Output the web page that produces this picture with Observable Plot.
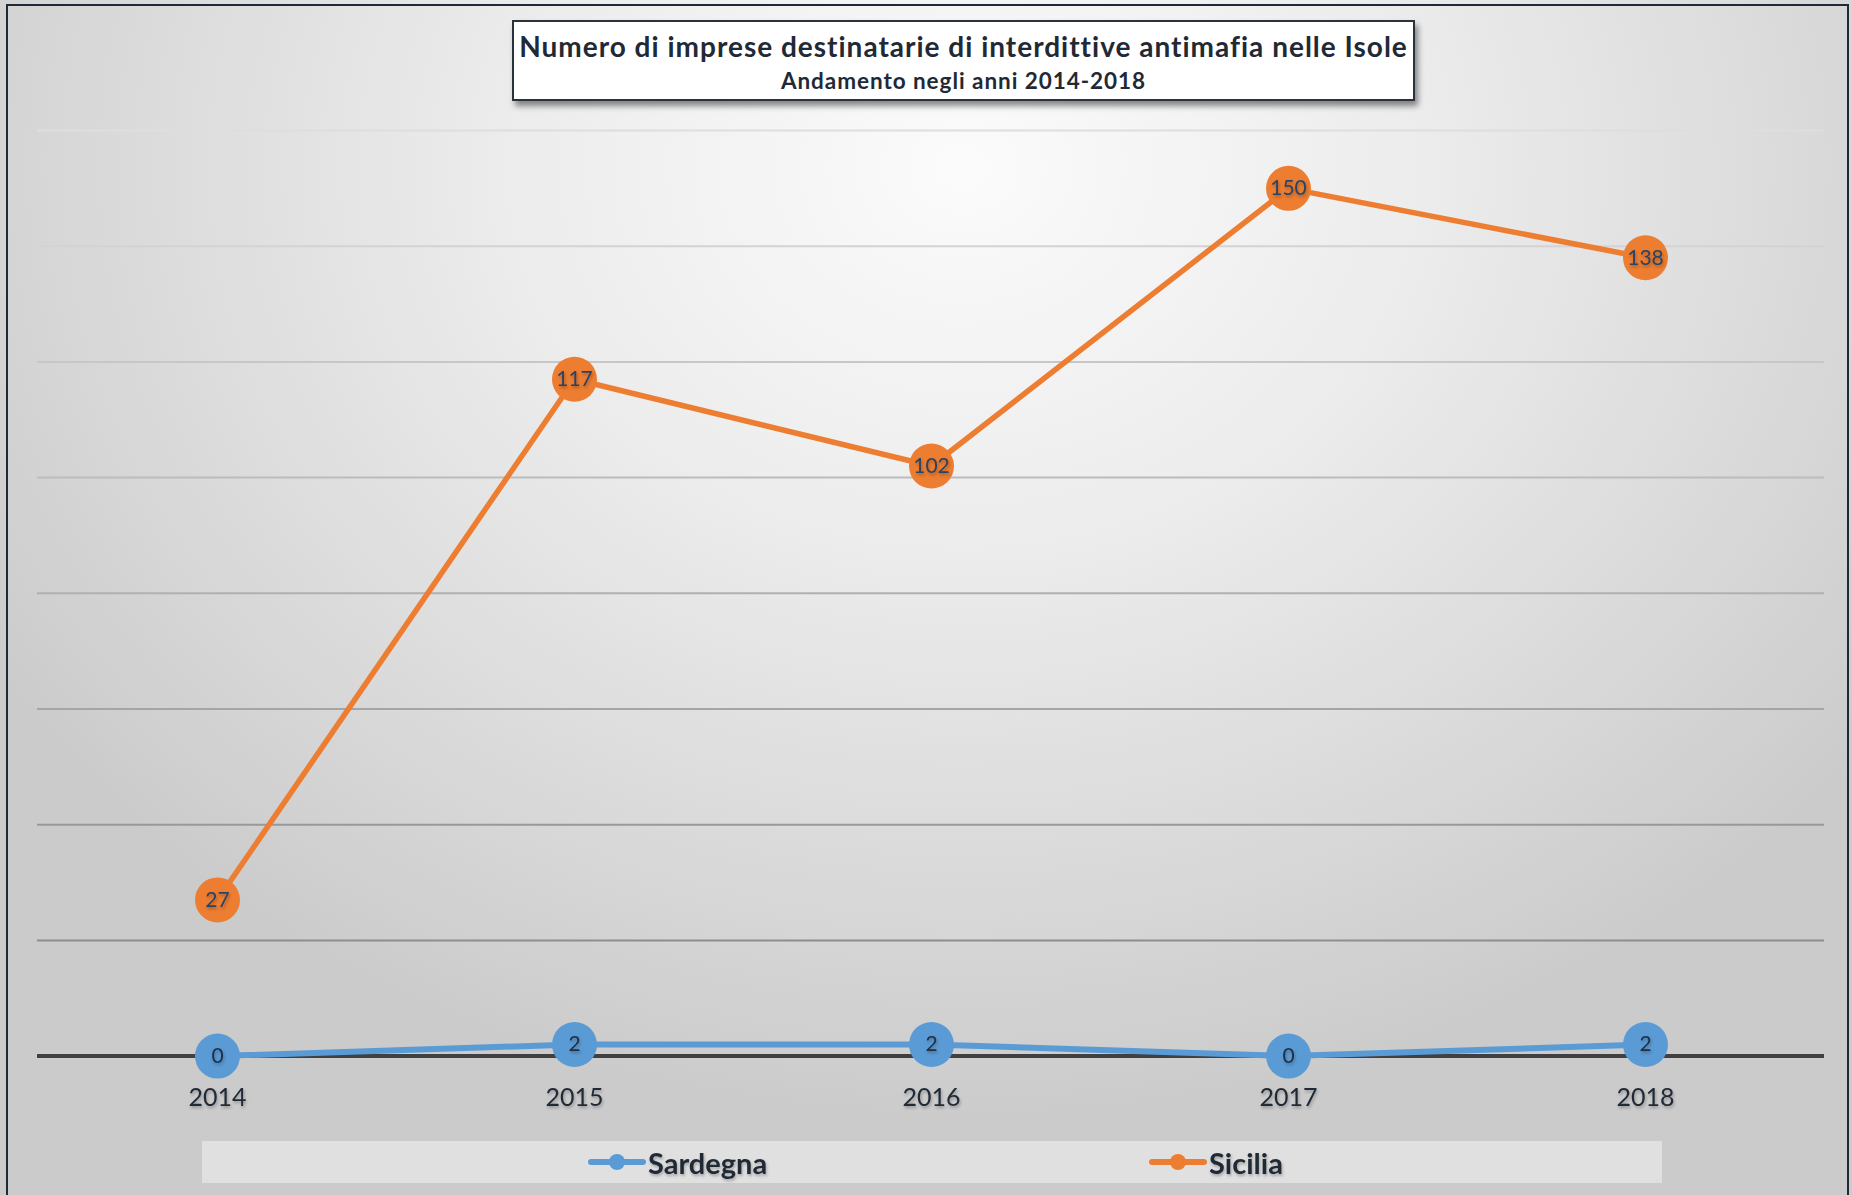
<!DOCTYPE html>
<html>
<head>
<meta charset="utf-8">
<script src="https://cdn.jsdelivr.net/npm/d3@7"></script>
<script src="https://cdn.jsdelivr.net/npm/@observablehq/plot@0.6"></script>
<style>
  html, body { margin: 0; padding: 0; overflow: hidden; background: #d0d0d0; }
  #chart {
    position: relative; width: 1852px; height: 1195px; overflow: hidden;
    background: radial-gradient(ellipse 62% 80% at 52% 14%, #fbfbfb 0%, #ececec 40%, #d9d9d9 75%, #cbcbcb 100%);
    font-family: Lato, "Open Sans", sans-serif;
  }
  #frame {
    position: absolute; left: 6px; top: 4px; width: 1843px; height: 1200px;
    border: 2px solid #1f2a36; box-sizing: border-box; pointer-events: none;
  }
  #plot { position: absolute; left: 0; top: 0; }
  #plot svg text { filter: drop-shadow(1px 2px 1.5px rgba(0,0,0,0.28)); }
  #titlebox {
    position: absolute; left: 512px; top: 20px; width: 903px; height: 81px;
    box-sizing: border-box; border: 2px solid #2a323c; background: #ffffff;
    box-shadow: 3px 5px 6px rgba(0,0,0,0.45); text-align: center; color: #1f2a36;
    white-space: nowrap;
  }
  #title { font-weight: 700; font-size: 28px; line-height: 28px; margin-top: 10px; letter-spacing: 1.0px; }
  #subtitle { font-weight: 700; font-size: 22.5px; line-height: 22px; margin-top: 10px; letter-spacing: 0.95px; }
  #legend {
    position: absolute; left: 202px; top: 1141px; width: 1460px; height: 42px;
    background: #e0e0e0;
  }
  .item { position: absolute; top: 0; height: 42px; display: flex; align-items: center; }
  .item span { font-weight: 700; font-size: 29px; color: #1f2a36; filter: drop-shadow(1px 2px 1.5px rgba(0,0,0,0.28)); }
  .item svg { margin-right: 2px; }
</style>
</head>
<body>
<div id="chart">
  <div id="plot"></div>
  <div id="titlebox">
    <div id="title"></div>
    <div id="subtitle"></div>
  </div>
  <div id="legend"></div>
  <div id="frame"></div>
</div>
<script>
// ---- data ----
const years = ["2014", "2015", "2016", "2017", "2018"];
const sardegna = [0, 2, 2, 0, 2];
const sicilia = [27, 117, 102, 150, 138];
const seriesNames = ["Sardegna", "Sicilia"];
const seriesColors = ["#5B9BD5", "#ED7D31"];
const gridTicks = [20, 40, 60, 80, 100, 120, 140, 160];
const titleText = "Numero di imprese destinatarie di interdittive antimafia nelle Isole";
const subtitleText = "Andamento negli anni 2014-2018";

document.getElementById("title").textContent = titleText;
document.getElementById("subtitle").textContent = subtitleText;

const rows = [];
[sardegna, sicilia].forEach((vals, si) => {
  years.forEach((yr, i) => rows.push({series: seriesNames[si], year: yr, value: vals[i]}));
});
const sard = rows.filter(d => d.series === "Sardegna");
const sici = rows.filter(d => d.series === "Sicilia");

const gridColor = d3.scaleLinear().domain([20, 160]).range(["#8e8e8e", "#dedede"]);

const chart = Plot.plot({
  width: 1852,
  height: 1130,
  marginTop: 130,
  marginBottom: 74.4,
  marginLeft: 37,
  marginRight: 28,
  style: {background: "transparent", fontFamily: "Lato, 'Open Sans', sans-serif", overflow: "visible"},
  x: {type: "point", domain: years, padding: 0.5, label: null},
  y: {domain: [0, 160], axis: null, label: null},
  marks: [
    Plot.ruleY(gridTicks, {y: d => d, stroke: d => gridColor(d), strokeWidth: 2}),
    Plot.ruleY([0], {stroke: "#404040", strokeWidth: 4}),
    Plot.axisX({tickSize: 0, tickPadding: 32, fontSize: 25, fill: "#1f2a36"}),
    Plot.line(sard, {x: "year", y: "value", stroke: seriesColors[0], strokeWidth: 6, curve: "linear"}),
    Plot.dot(sard, {x: "year", y: "value", r: 22.5, fill: seriesColors[0], stroke: "none"}),
    Plot.text(sard, {x: "year", y: "value", text: d => String(d.value), fill: "#1f2f45", fontSize: 21}),
    Plot.line(sici, {x: "year", y: "value", stroke: seriesColors[1], strokeWidth: 5.5, curve: "linear"}),
    Plot.dot(sici, {x: "year", y: "value", r: 22.5, fill: seriesColors[1], stroke: "none"}),
    Plot.text(sici, {x: "year", y: "value", text: d => String(d.value), fill: "#2a4467", fontSize: 21})
  ]
});
document.getElementById("plot").appendChild(chart);

// ---- legend ----
const legend = document.getElementById("legend");
const legendX = [386, 947];
seriesNames.forEach((name, i) => {
  const item = document.createElement("div");
  item.className = "item";
  item.style.left = legendX[i] + "px";
  item.innerHTML = `<svg width="58" height="20"><line x1="3" x2="55" y1="10" y2="10" stroke="${seriesColors[i]}" stroke-width="6" stroke-linecap="round"/><circle cx="29" cy="10" r="8" fill="${seriesColors[i]}"/></svg><span>${name}</span>`;
  legend.appendChild(item);
});
</script>
</body>
</html>
